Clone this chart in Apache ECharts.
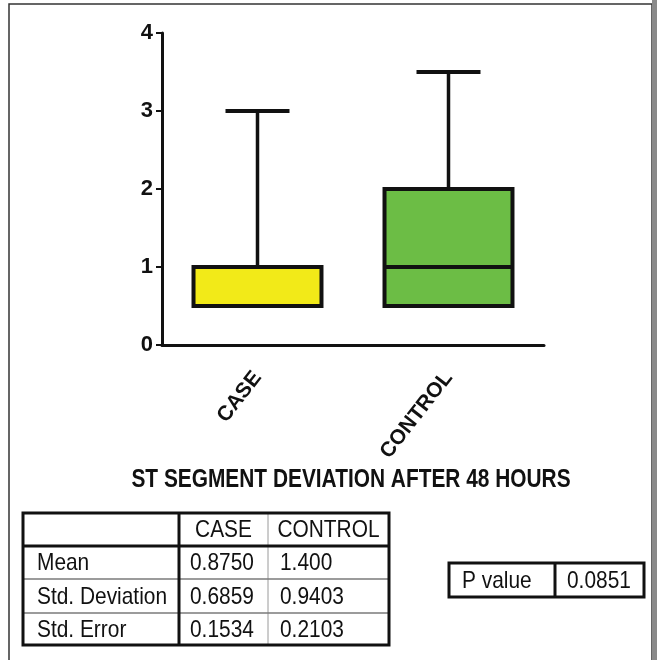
<!DOCTYPE html>
<html>
<head>
<meta charset="utf-8">
<script src="https://cdn.jsdelivr.net/npm/echarts@6/dist/echarts.min.js"></script>
<style>html,body{margin:0;padding:0;background:#fff}#chart{width:657px;height:660px}</style>
</head>
<body>
<div id="chart"></div>
<script>
// ---- data ----
const categories = ['CASE', 'CONTROL'];
const whiskerMin = [0.5, 0.5];
const quartile1 = [0.5, 0.5];
const medians = [0.5, 1];
const quartile3 = [1, 2];
const whiskerMax = [3, 3.5];
const yTicks = [0, 1, 2, 3, 4];
const chartTitle = 'ST SEGMENT DEVIATION AFTER 48 HOURS';
const tableHeader = ['CASE', 'CONTROL'];
const rowLabels = ['Mean', 'Std. Deviation', 'Std. Error'];
const caseStats = ['0.8750', '0.6859', '0.1534'];
const controlStats = ['1.400', '0.9403', '0.2103'];
const pLabel = 'P value';
const pValue = '0.0851';

// ---- styles ----
const boxColors = ['#F2EA18', '#6CBD45'];
const ink = '#111';
const sans = "'Liberation Sans', Arial, sans-serif";

const boxData = categories.map((c, i) => [i, whiskerMin[i], quartile1[i], medians[i], quartile3[i], whiskerMax[i]]);

const chart = echarts.init(document.getElementById('chart'));

// table graphics
const g = [];
const tx = [23, 179, 268, 389];
const ty = [513, 546, 579, 613, 645];
const line = (x1, y1, x2, y2, w, col) => g.push({type: 'line', shape: {x1, y1, x2, y2}, style: {stroke: col || ink, lineWidth: w}, z: 10});
const text = (t, x, y, align) => g.push({type: 'text', x, y, scaleX: 0.87, style: {text: t, font: '24px ' + sans, fill: '#111', align: align || 'left', verticalAlign: 'middle'}, z: 11});

// outer frame
g.push({type: 'rect', shape: {x: 9, y: 4, width: 643, height: 665}, style: {fill: 'none', stroke: '#333', lineWidth: 1.5}, z: 1});
g.push({type: 'rect', shape: {x: 652, y: 0, width: 5, height: 660}, style: {fill: '#8a8a8a'}, z: 1});

// main table
line(tx[2], ty[0], tx[2], ty[4], 1, '#9a9a9a');
for (let r = 2; r <= 3; r++) line(tx[0], ty[r], tx[3], ty[r], 1.5, '#7a7a7a');
line(tx[0], ty[1], tx[3], ty[1], 3);
line(tx[1], ty[0], tx[1], ty[4], 3);
g.push({type: 'rect', shape: {x: tx[0], y: ty[0], width: tx[3] - tx[0], height: ty[4] - ty[0]}, style: {fill: 'none', stroke: ink, lineWidth: 3}, z: 10});
text(tableHeader[0], (tx[1] + tx[2]) / 2, (ty[0] + ty[1]) / 2 + 1, 'center');
text(tableHeader[1], (tx[2] + tx[3]) / 2, (ty[0] + ty[1]) / 2 + 1, 'center');
rowLabels.forEach((lab, i) => {
  const cy = (ty[i + 1] + ty[i + 2]) / 2 + 1;
  text(lab, 37, cy);
  text(caseStats[i], 190, cy);
  text(controlStats[i], 280, cy);
});

// p-value box
const px = [449, 555, 644], py = [563, 597];
g.push({type: 'rect', shape: {x: px[0], y: py[0], width: px[2] - px[0], height: py[1] - py[0]}, style: {fill: 'none', stroke: ink, lineWidth: 3}, z: 10});
line(px[1], py[0], px[1], py[1], 3);
text(pLabel, 462, (py[0] + py[1]) / 2 + 1);
text(pValue, 567, (py[0] + py[1]) / 2 + 1);

// title
g.push({type: 'text', x: 351, y: 480, scaleX: 0.835, style: {text: chartTitle, font: 'bold 25px ' + sans, fill: '#111', align: 'center', verticalAlign: 'middle'}, z: 11});

chart.setOption({
  animation: false,
  backgroundColor: '#fff',
  grid: {left: 162, right: 113, top: 33, bottom: 315, containLabel: false},
  xAxis: {
    type: 'category',
    data: categories,
    boundaryGap: true,
    axisLine: {lineStyle: {color: ink, width: 3}},
    axisTick: {alignWithLabel: true, length: 7, lineStyle: {color: ink, width: 3}},
    axisLabel: {rotate: 52, margin: 29, color: '#111', fontFamily: sans, fontWeight: 'bold', fontSize: 21},
    splitLine: {show: false}
  },
  yAxis: {
    type: 'value',
    min: yTicks[0],
    max: yTicks[yTicks.length - 1],
    interval: 1,
    axisLine: {show: true, lineStyle: {color: ink, width: 3}},
    axisTick: {show: true, length: 6, lineStyle: {color: ink, width: 2}},
    axisLabel: {margin: 9, color: '#111', fontFamily: sans, fontWeight: 'bold', fontSize: 22},
    splitLine: {show: false}
  },
  series: [{
    type: 'custom',
    data: boxData,
    encode: {x: 0, y: [1, 2, 3, 4, 5]},
    renderItem: function (params, api) {
      const i = api.value(0);
      const bandW = api.size([1, 0])[0];
      const boxW = bandW * 0.67;
      const capW = boxW * 0.5;
      const pMin = api.coord([i, api.value(1)]);
      const pQ1 = api.coord([i, api.value(2)]);
      const pMed = api.coord([i, api.value(3)]);
      const pQ3 = api.coord([i, api.value(4)]);
      const pMax = api.coord([i, api.value(5)]);
      const cx = pMed[0];
      const stroke = {stroke: ink, lineWidth: 4};
      return {
        type: 'group',
        children: [
          {type: 'line', shape: {x1: cx, y1: pQ3[1], x2: cx, y2: pMax[1]}, style: {stroke: ink, lineWidth: 3.5}},
          {type: 'line', shape: {x1: cx, y1: pQ1[1], x2: cx, y2: pMin[1]}, style: {stroke: ink, lineWidth: 3.5}},
          {type: 'line', shape: {x1: cx - capW / 2, y1: pMax[1], x2: cx + capW / 2, y2: pMax[1]}, style: stroke},
          {type: 'line', shape: {x1: cx - capW / 2, y1: pMin[1], x2: cx + capW / 2, y2: pMin[1]}, style: stroke},
          {type: 'rect', shape: {x: cx - boxW / 2, y: pQ3[1], width: boxW, height: pQ1[1] - pQ3[1]}, style: {fill: boxColors[params.dataIndex], stroke: ink, lineWidth: 4}},
          {type: 'line', shape: {x1: cx - boxW / 2, y1: pMed[1], x2: cx + boxW / 2, y2: pMed[1]}, style: stroke}
        ]
      };
    }
  }],
  graphic: g
});
</script>
</body>
</html>
